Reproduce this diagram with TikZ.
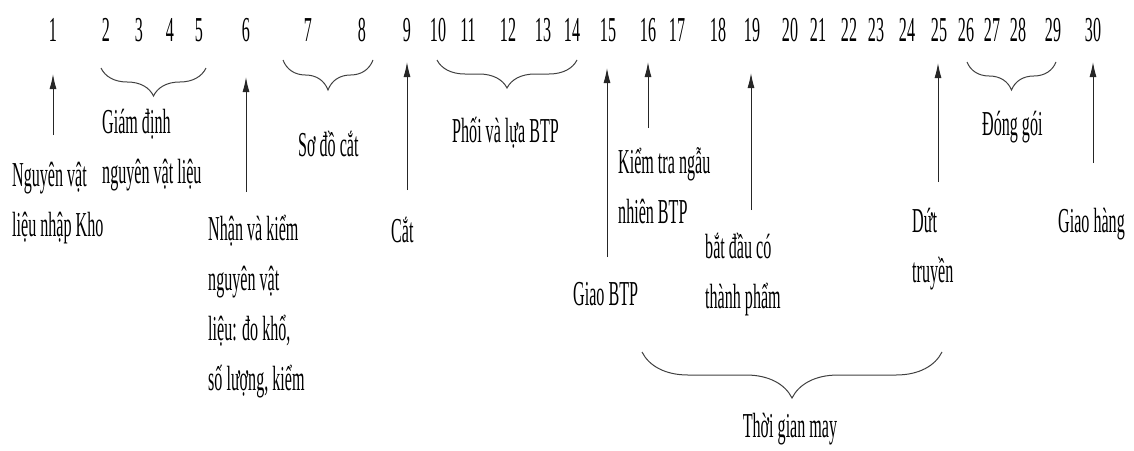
\documentclass[tikz,border=0pt]{standalone}
\usepackage{fontspec}
\setmainfont{Liberation Serif}[FakeStretch=0.46]
\usetikzlibrary{arrows.meta,decorations.pathreplacing}

% several lines of text whose reference point is the first baseline
\newcommand\textlines[1]{\vtop{\baselineskip=50pt\lineskiplimit=-1000pt
  \halign{##\hfil\cr#1\crcr}}}

\tikzset{
  num/.style={anchor=base,inner sep=0pt},
  lbl/.style={anchor=base west,inner sep=0pt},
  up/.style={draw=black!85,line width=1pt,-{Latex[length=15pt,width=7pt]}},
  curly/.style={draw=black!75,line width=1pt,decorate,
    decoration={brace,amplitude=#1}},
}

\begin{document}
\begin{tikzpicture}[x=1pt,y=-1pt,font=\fontsize{35}{50}\selectfont]
\useasboundingbox (0,0) rectangle (1134,450);

% day numbers
\foreach \n/\x in {1/53,2/106,3/139,4/170,5/199,6/246,7/308,8/362,9/407,
  10/438,11/468,12/508,13/543,14/572,15/608,16/648,17/677,18/718,19/752,
  20/790,21/818,22/849,23/876,24/907,25/939,26/966,27/992,28/1018,29/1053,30/1093}
  \node[num] (d\n) at (\x,41) {\n};

% arrow ends
\coordinate (a1) at (53,135);   \coordinate (t1) at (53,74);
\coordinate (a6) at (246,192);  \coordinate (t6) at (246,77);
\coordinate (a9) at (407,190);  \coordinate (t9) at (407,62);
\coordinate (a15) at (607,257); \coordinate (t15) at (607,68);
\coordinate (a16) at (648,128); \coordinate (t16) at (648,62);
\coordinate (a19) at (751,210); \coordinate (t19) at (751,73);
\coordinate (a25) at (938,182); \coordinate (t25) at (938,63);
\coordinate (a30) at (1093,163);\coordinate (t30) at (1093,62);
\foreach \k in {1,6,9,15,16,19,25,30}
  \draw[up] (a\k) -- (t\k);

% braces (drawn right to left so they open downwards)
\draw[curly=28] (206,68) -- (101,68);
\draw[curly=30] (373,60) -- (283,60);
\draw[curly=28] (577,60) -- (437,60);
\draw[curly=28] (1056,62) -- (967,62);
\draw[curly=46] (942,352) -- (642,352);

% labels
\node[lbl] (l1) at (12,186) {\textlines{Nguyên vật\cr liệu nhập Kho}};
\node[lbl] (l2) at (102,133) {\textlines{Giám định\cr nguyên vật liệu}};
\node[lbl] (l6) at (208,240) {\textlines{Nhận và kiểm\cr nguyên vật\cr liệu: đo khổ,\cr số lượng, kiểm}};
\node[lbl] (l7) at (298,156) {Sơ đồ cắt};
\node[lbl] (l9) at (391,242) {Cắt};
\node[lbl] (l10) at (452,142) {Phối và lựa BTP};
\node[lbl] (l15) at (573,305) {Giao BTP};
\node[lbl] (l16) at (618,173) {\textlines{Kiểm tra ngẫu\cr nhiên BTP}};
\node[lbl] (l19) at (705,258) {\textlines{bắt đầu có\cr thành phẩm}};
\node[lbl] (l25) at (912,232) {\textlines{Dứt\cr truyền}};
\node[lbl] (l26) at (982,135) {Đóng gói};
\node[lbl] (l30) at (1058,232) {Giao hàng};
\node[num] (lmay) at (790,437) {Thời gian may};
\end{tikzpicture}
\end{document}
